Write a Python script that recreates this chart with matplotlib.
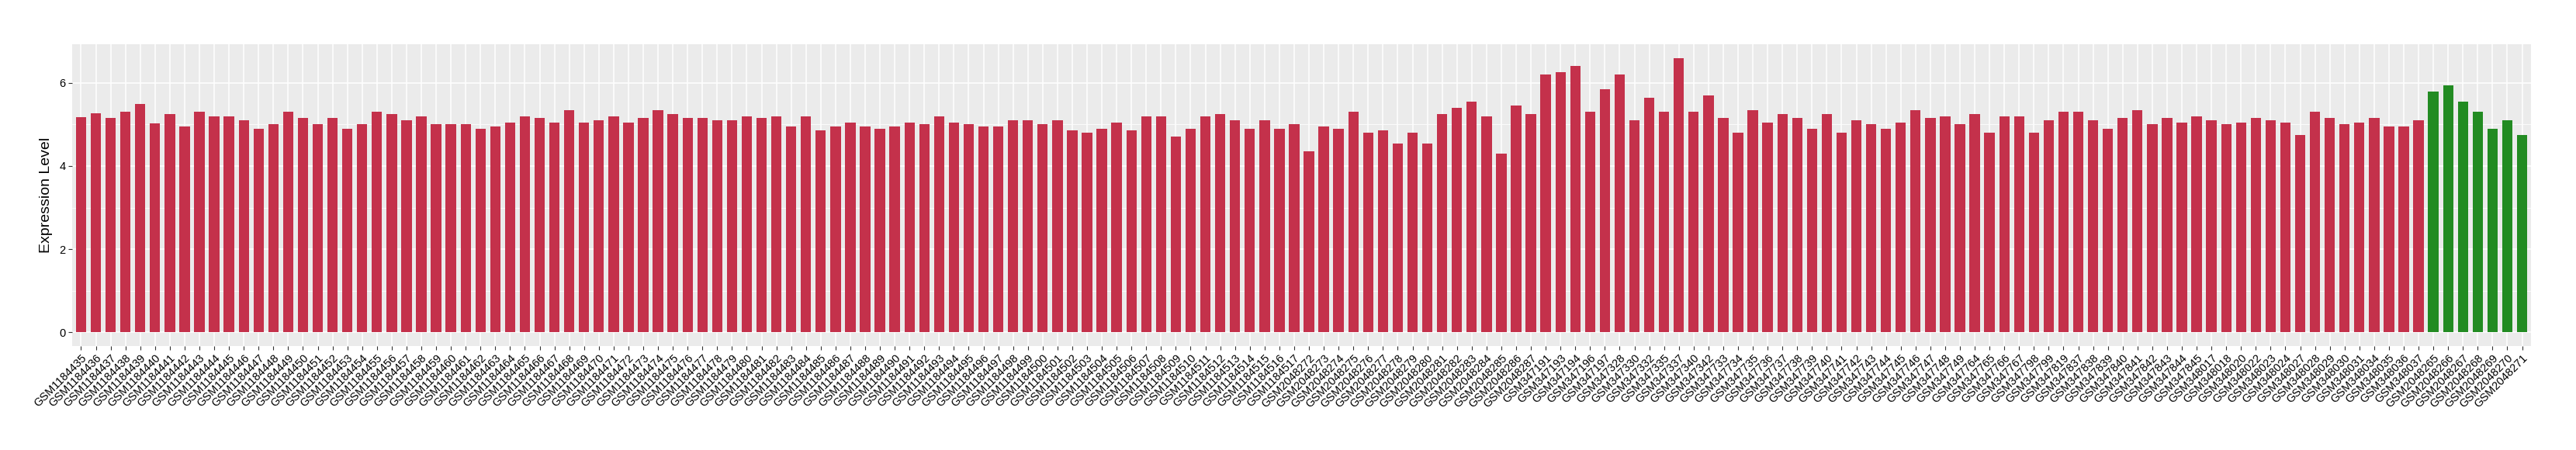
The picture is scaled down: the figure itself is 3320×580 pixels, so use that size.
import matplotlib.pyplot as plt
import matplotlib as mpl
import numpy as np

mpl.rcParams['font.family'] = ['Liberation Sans', 'DejaVu Sans']

# sample ids, in plotting order
ids_a = ['GSM%d' % i for i in range(1184435, 1184518)]
ids_b = ['GSM%d' % i for i in range(2048272, 2048288)]
ids_c = ['GSM347191', 'GSM347193', 'GSM347194', 'GSM347196', 'GSM347197',
         'GSM347328', 'GSM347330', 'GSM347332', 'GSM347335', 'GSM347337',
         'GSM347340', 'GSM347342']
ids_d = ['GSM%d' % i for i in range(347733, 347750)]
ids_e = ['GSM347764', 'GSM347765', 'GSM347766', 'GSM347767', 'GSM347798',
         'GSM347799', 'GSM347819', 'GSM347837', 'GSM347838', 'GSM347839',
         'GSM347840', 'GSM347841', 'GSM347842', 'GSM347843', 'GSM347844',
         'GSM347845']
ids_f = ['GSM348017', 'GSM348018', 'GSM348020', 'GSM348022', 'GSM348023',
         'GSM348024', 'GSM348027', 'GSM348028', 'GSM348029', 'GSM348030',
         'GSM348031', 'GSM348034', 'GSM348035', 'GSM348036', 'GSM348037']
ids_green = ['GSM%d' % i for i in range(2048265, 2048272)]

red_values = [
    5.18, 5.27, 5.16, 5.31, 5.49, 5.03, 5.25, 4.95, 5.30, 5.20,
    5.20, 5.10, 4.90, 5.00, 5.30, 5.15, 5.00, 5.15, 4.90, 5.00,
    5.30, 5.25, 5.10, 5.20, 5.00, 5.00, 5.00, 4.90, 4.95, 5.05,
    5.20, 5.15, 5.05, 5.35, 5.05, 5.10, 5.20, 5.05, 5.15, 5.35,
    5.25, 5.15, 5.15, 5.10, 5.10, 5.20, 5.15, 5.20, 4.95, 5.20,
    4.85, 4.95, 5.05, 4.95, 4.90, 4.95, 5.05, 5.00, 5.20, 5.05,
    5.00, 4.95, 4.95, 5.10, 5.10, 5.00, 5.10, 4.85, 4.80, 4.90,
    5.05, 4.85, 5.20, 5.20, 4.70, 4.90, 5.20, 5.25, 5.10, 4.90,
    5.10, 4.90, 5.00, 4.35, 4.95, 4.90, 5.30, 4.80, 4.85, 4.55,
    4.80, 4.55, 5.25, 5.40, 5.55, 5.20, 4.30, 5.45, 5.25, 6.20,
    6.25, 6.40, 5.30, 5.85, 6.20, 5.10, 5.65, 5.30, 6.60, 5.30,
    5.70, 5.15, 4.80, 5.35, 5.05, 5.25, 5.15, 4.90, 5.25, 4.80,
    5.10, 5.00, 4.90, 5.05, 5.35, 5.15, 5.20, 5.00, 5.25, 4.80,
    5.20, 5.20, 4.80, 5.10, 5.30, 5.30, 5.10, 4.90, 5.15, 5.35,
    5.00, 5.15, 5.05, 5.20, 5.10, 5.00, 5.05, 5.15, 5.10, 5.05,
    4.75, 5.30, 5.15, 5.00, 5.05, 5.15, 4.95, 4.95, 5.10]
green_values = [5.80, 5.95, 5.55, 5.30, 4.90, 5.10, 4.75]

red_col = '#C4314B'
green_col = '#228B22'


def main():
    labels = ids_a + ids_b + ids_c + ids_d + ids_e + ids_f + ids_green
    values = np.array(red_values + green_values)
    colors = [red_col] * len(red_values) + [green_col] * len(green_values)
    n = len(labels)
    x = np.arange(n)

    fig = plt.figure(figsize=(33.2, 5.8), dpi=100)
    plt.subplots_adjust(left=93 / 3320, right=3262 / 3320,
                        top=1 - 57 / 580, bottom=1 - 446 / 580)
    ax = plt.gca()
    ax.set_facecolor('#EBEBEB')
    for s in ax.spines.values():
        s.set_visible(False)

    ax.bar(x, values, width=0.7, color=colors, zorder=3)

    ymax = values.max()
    ax.set_ylim(-0.05 * ymax, 1.05 * ymax)
    ax.set_xlim(-0.6, n - 0.4)

    ax.set_yticks([0, 2, 4, 6])
    ax.set_yticks([1, 3, 5], minor=True)
    ax.set_xticks(x)
    ax.set_xticklabels(labels, rotation=45, ha='right', va='top',
                       rotation_mode='anchor', fontsize=10.5)
    ax.grid(True, which='major', color='white', linewidth=1.1, zorder=0)
    ax.grid(True, which='minor', axis='y', color='white', linewidth=0.55, zorder=0)
    ax.set_axisbelow(True)
    ax.tick_params(axis='both', which='major', length=3.5, width=0.8,
                   color='#333333', labelcolor='black', pad=2.5)
    ax.tick_params(axis='y', which='major', labelsize=10.5)
    ax.tick_params(axis='y', which='minor', length=0)

    ax.set_ylabel('Expression Level', fontsize=14, labelpad=6)

    plt.savefig('out.png', dpi=100)


if __name__ == '__main__':
    main()
